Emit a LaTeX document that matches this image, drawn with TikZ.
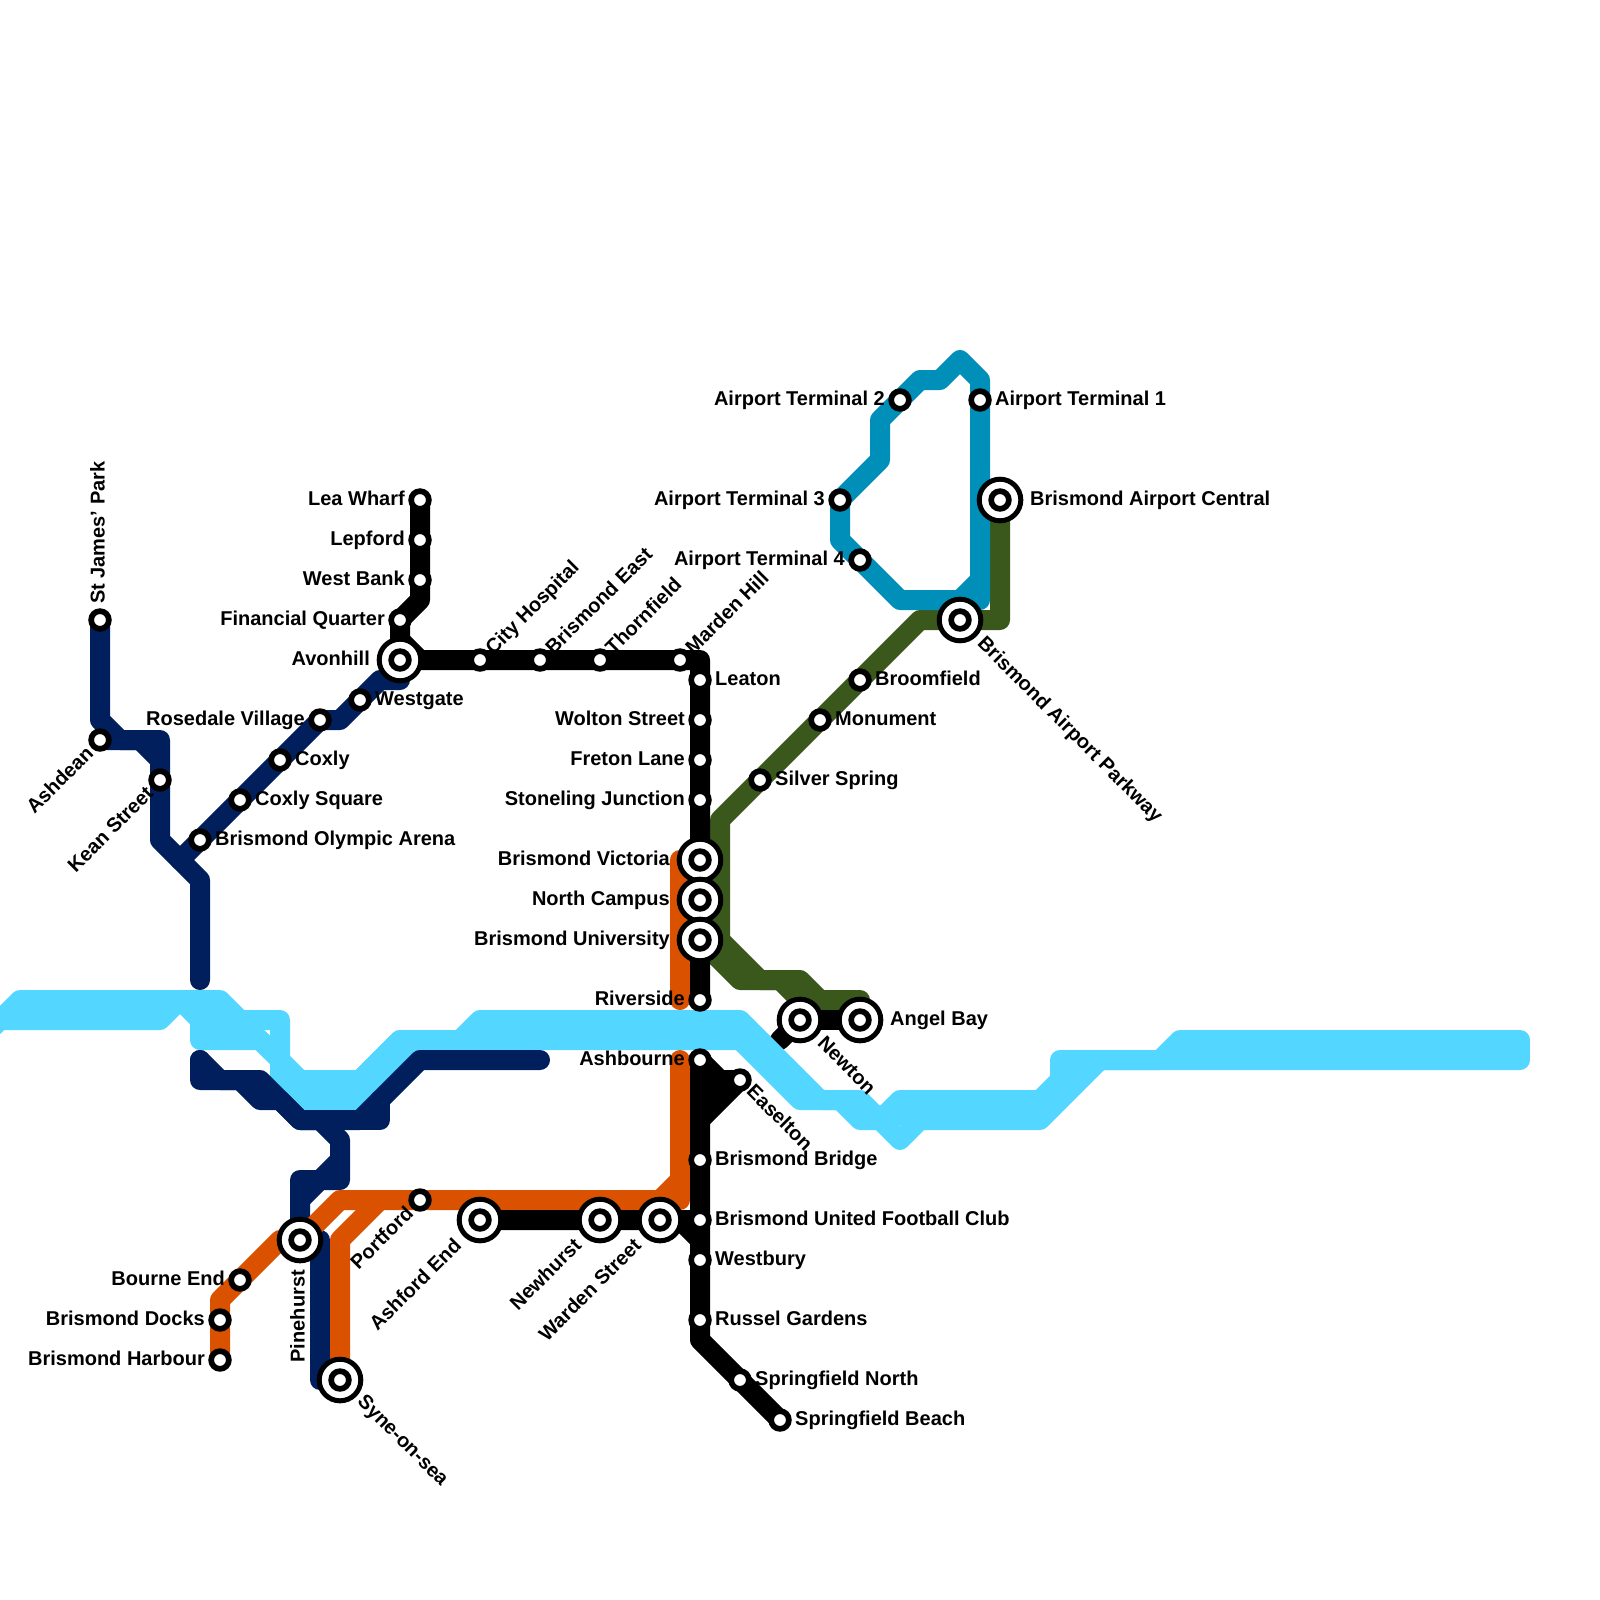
\documentclass[tikz,border=0pt]{standalone}
\usepackage{fontspec}
\setsansfont{Liberation Sans}
\usetikzlibrary{backgrounds}
\definecolor{lineSky}{RGB}{83,214,255}
\definecolor{lineNavy}{RGB}{0,31,92}
\definecolor{lineRust}{RGB}{218,82,0}
\definecolor{lineMoss}{RGB}{58,88,28}
\definecolor{lineTeal}{RGB}{0,143,184}
\tikzset{metro/.style={
  x=1pt, y=-1pt,
  track/.style={line width=20pt, line join=round, line cap=round},
  stop/.style={circle, draw=black, fill=white, line width=5.7pt, minimum size=17.7pt, inner sep=0pt, outer sep=0pt},
  hub/.style={circle, draw=black, fill=white, line width=5pt, minimum size=41.6pt, inner sep=0pt, outer sep=0pt, label={[stop]center:{}}},
  tag/.style={font=\sffamily\bfseries\fontsize{20}{22}\selectfont, inner sep=0pt, text height=14pt, text depth=1pt},
  tagr/.style={tag, anchor=west},
  tagl/.style={tag, anchor=east},
}}
\begin{document}
\begin{tikzpicture}[metro]
\useasboundingbox (0,0) rectangle (1600,1600);
% =====================================================================
%  stations
% =====================================================================
\node[stop] (stjames) at (100,620) {};
\node[stop] (ashdean) at (100,740) {};
\node[stop] (kean) at (160,780) {};
\node[stop] (olympic) at (200,840) {};
\node[stop] (coxlysq) at (240,800) {};
\node[stop] (coxly) at (280,760) {};
\node[stop] (rosedale) at (320,720) {};
\node[stop] (westgate) at (360,700) {};
\node[hub] (avonhill) at (400,660) {};
\node[stop] (financial) at (400,620) {};
\node[stop] (westbank) at (420,580) {};
\node[stop] (lepford) at (420,540) {};
\node[stop] (leawharf) at (420,500) {};
\node[stop] (cityhosp) at (480,660) {};
\node[stop] (briseast) at (540,660) {};
\node[stop] (thornfield) at (600,660) {};
\node[stop] (marden) at (680,660) {};
\node[stop] (leaton) at (700,680) {};
\node[stop] (wolton) at (700,720) {};
\node[stop] (freton) at (700,760) {};
\node[stop] (stoneling) at (700,800) {};
\node[hub] (victoria) at (700,860) {};
\node[hub] (north) at (700,900) {};
\node[hub] (university) at (700,940) {};
\node[stop] (riverside) at (700,1000) {};
\node[stop] (ashbourne) at (700,1060) {};
\node[stop] (easelton) at (740,1080) {};
\node[stop] (bridge) at (700,1160) {};
\node[stop] (united) at (700,1220) {};
\node[stop] (westbury) at (700,1260) {};
\node[stop] (russel) at (700,1320) {};
\node[stop] (springn) at (740,1380) {};
\node[stop] (springb) at (780,1420) {};
\node[hub] (newton) at (800,1020) {};
\node[hub] (angel) at (860,1020) {};
\node[stop] (silver) at (760,780) {};
\node[stop] (monument) at (820,720) {};
\node[stop] (broomfield) at (860,680) {};
\node[hub] (parkway) at (960,620) {};
\node[hub] (central) at (1000,500) {};
\node[stop] (term1) at (980,400) {};
\node[stop] (term2) at (900,400) {};
\node[stop] (term3) at (840,500) {};
\node[stop] (term4) at (860,560) {};
\node[hub] (pinehurst) at (300,1240) {};
\node[hub] (syne) at (340,1380) {};
\node[stop] (bourne) at (240,1280) {};
\node[stop] (docks) at (220,1320) {};
\node[stop] (harbour) at (220,1360) {};
\node[stop] (portford) at (420,1200) {};
\node[hub] (ashford) at (480,1220) {};
\node[hub] (newhurst) at (600,1220) {};
\node[hub] (warden) at (660,1220) {};

% =====================================================================
%  lines
% =====================================================================
\begin{scope}[on background layer]
  \draw[track, black] (newton.center) -- (780,1040);
  % sky line, two tracks and the seam between them
  \draw[track, lineSky] (-20,1040) -- (20,1000) -- (220,1000) -- (240,1020) -- (280,1020) -- (280,1060) -- (300,1080) -- (360,1080) -- (400,1040) -- (460,1040) -- (480,1020) -- (740,1020) -- (820,1100) -- (860,1100) -- (900,1140) -- (920,1120) -- (1040,1120) -- (1100,1060) -- (1520,1060);
  \draw[track, lineSky] (-20,1020) -- (160,1020) -- (180,1000) -- (200,1020) -- (200,1040) -- (260,1040) -- (280,1060) -- (280,1080) -- (300,1100) -- (360,1100) -- (420,1040) -- (740,1040) -- (800,1100) -- (840,1100) -- (860,1120) -- (880,1120) -- (900,1100) -- (1040,1100) -- (1060,1080) -- (1060,1060) -- (1160,1060) -- (1180,1040) -- (1520,1040);
  \draw[track, lineSky] (20,1010) -- (160,1010);
  \draw[track, lineSky] (200,1020) -- (270,1020);
  \draw[track, lineSky] (210,1030) -- (250,1030) -- (270,1050);
  \draw[track, lineSky] (310,1090) -- (350,1090) -- (400,1040);
  \draw[track, lineSky] (480,1030) -- (740,1030) -- (810,1100);
  \draw[track, lineSky] (880,1120) -- (920,1110) -- (1040,1110) -- (1090,1060);
  \draw[track, lineSky, line cap=butt] (1180,1050) -- (1530,1050);
  % navy line
  \draw[track, lineNavy] (stjames.center) -- (100,720) -- (120,740) -- (160,740) -- (160,840) -- (200,880) -- (200,980);
  \draw[track, lineNavy] (ashdean.center) -- (140,740) -- (160,760);
  \draw[track, lineNavy] (180,860) -- (rosedale.center) -- (340,720) -- (380,680) -- (400,680) -- (avonhill.center);
  \draw[track, lineNavy] (200,1060) -- (220,1080) -- (260,1080) -- (300,1120) -- (360,1120) -- (420,1060) -- (540,1060);
  \draw[track, lineNavy] (200,1060) -- (200,1080) -- (240,1080) -- (260,1100) -- (280,1100) -- (300,1120) -- (320,1120) -- (340,1140) -- (340,1180) -- (300,1180) -- (pinehurst.center);
  \draw[track, lineNavy] (340,1160) -- (300,1200);
  \draw[track, lineNavy] (380,1100) -- (380,1120) -- (340,1120);
  \draw[track, lineNavy] (pinehurst.center) -- (320,1240) -- (320,1380) -- (syne.center);
  % rust line
  \draw[track, lineRust] (harbour.center) -- (220,1300) -- (280,1240) -- (pinehurst.center) -- (340,1200) -- (680,1200) -- (680,1060);
  \draw[track, lineRust] (syne.center) -- (340,1240) -- (380,1200);
  \draw[track, lineRust] (660,1200) -- (680,1180);
  \draw[track, lineRust] (680,860) -- (680,1000);
  % moss line
  \draw[track, lineMoss] (central.center) -- (1000,620) -- (920,620) -- (720,820) -- (720,940) -- (760,980) -- (800,980) -- (820,1000) -- (860,1000) -- (angel.center);
  \draw[track, lineMoss] (university.center) -- (740,980) -- (780,980) -- (800,1000) -- (newton.center);
  % teal line
  \draw[track, lineTeal] (term3.center) -- (880,460) -- (880,420) -- (920,380) -- (940,380) -- (960,360) -- (980,380) -- (980,600) -- (900,600) -- (840,540) -- (term3.center);
  \draw[track, lineTeal] (960,600) -- (980,580);
  % black line
  \draw[track, black] (leawharf.center) -- (420,600) -- (financial.center) -- (avonhill.center) -- (700,660) -- (riverside.center);
  \draw[track, black] (400,640) -- (420,660);
  \draw[track, black] (ashbourne.center) -- (700,1340) -- (springb.center);
  \draw[track, black] (ashbourne.center) -- (720,1080) -- (easelton.center) -- (700,1120);
  \draw[track, black] (700,1080) -- (easelton.center);
  \draw[track, black] (700,1095) -- (720,1095);
  \draw[track, black] (ashford.center) -- (680,1220) -- (700,1240);
  \draw[track, black] (680,1220) -- (united.center);
  \draw[track, black] (newton.center) -- (angel.center);
\end{scope}

% =====================================================================
%  station names
% =====================================================================
\node[tag, rotate=90, anchor=west] (stjamesT) at (98,604) {St James' Park};
\node[tag, rotate=45, anchor=east] (ashdeanT) at (90,750) {Ashdean};
\node[tag, rotate=45, anchor=east] (keanT) at (150,790) {Kean Street};
\node[tagr] (olympicT) at (215,839) {Brismond Olympic Arena};
\node[tagr] (coxlysqT) at (255,799) {Coxly Square};
\node[tagr] (coxlyT) at (295,759) {Coxly};
\node[tagl] (rosedaleT) at (305,719) {Rosedale Village};
\node[tagr] (westgateT) at (375,699) {Westgate};
\node[tagl] (avonhillT) at (370,659) {Avonhill};
\node[tagl] (financialT) at (385,619) {Financial Quarter};
\node[tagl] (westbankT) at (405,579) {West Bank};
\node[tagl] (lepfordT) at (405,539) {Lepford};
\node[tagl] (leawharfT) at (405,499) {Lea Wharf};
\node[tag, rotate=45, anchor=west] (cityhospT) at (489,651) {City Hospital};
\node[tag, rotate=45, anchor=west] (briseastT) at (549,651) {Brismond East};
\node[tag, rotate=45, anchor=west] (thornfieldT) at (609,651) {Thornfield};
\node[tag, rotate=45, anchor=west] (mardenT) at (689,651) {Marden Hill};
\node[tagr] (leatonT) at (715,679) {Leaton};
\node[tagl] (woltonT) at (685,719) {Wolton Street};
\node[tagl] (fretonT) at (685,759) {Freton Lane};
\node[tagl] (stonelingT) at (685,799) {Stoneling Junction};
\node[tagl] (victoriaT) at (670,859) {Brismond Victoria};
\node[tagl] (northT) at (670,899) {North Campus};
\node[tagl] (universityT) at (670,939) {Brismond University};
\node[tagl] (riversideT) at (685,999) {Riverside};
\node[tagl] (ashbourneT) at (685,1059) {Ashbourne};
\node[tag, rotate=-45, anchor=west] (easeltonT) at (750,1088) {Easelton};
\node[tagr] (bridgeT) at (715,1159) {Brismond Bridge};
\node[tagr] (unitedT) at (715,1219) {Brismond United Football Club};
\node[tagr] (westburyT) at (715,1259) {Westbury};
\node[tagr] (russelT) at (715,1319) {Russel Gardens};
\node[tagr] (springnT) at (755,1379) {Springfield North};
\node[tagr] (springbT) at (795,1419) {Springfield Beach};
\node[tag, rotate=-45, anchor=west] (newtonT) at (821,1040) {Newton};
\node[tagr] (angelT) at (890,1019) {Angel Bay};
\node[tagr] (silverT) at (775,779) {Silver Spring};
\node[tagr] (monumentT) at (835,719) {Monument};
\node[tagr] (broomfieldT) at (875,679) {Broomfield};
\node[tag, rotate=-45, anchor=west] (parkwayT) at (981,640) {Brismond Airport Parkway};
\node[tagr] (centralT) at (1030,499) {Brismond Airport Central};
\node[tagr] (term1T) at (995,399) {Airport Terminal 1};
\node[tagl] (term2T) at (885,399) {Airport Terminal 2};
\node[tagl] (term3T) at (825,499) {Airport Terminal 3};
\node[tagl] (term4T) at (845,559) {Airport Terminal 4};
\node[tag, rotate=90, anchor=east] (pinehurstT) at (298,1270) {Pinehurst};
\node[tag, rotate=-45, anchor=west] (syneT) at (361,1398) {Syne-on-sea};
\node[tagl] (bourneT) at (225,1279) {Bourne End};
\node[tagl] (docksT) at (205,1319) {Brismond Docks};
\node[tagl] (harbourT) at (205,1359) {Brismond Harbour};
\node[tag, rotate=45, anchor=east] (portfordT) at (410,1210) {Portford};
\node[tag, rotate=45, anchor=east] (ashfordT) at (458,1242) {Ashford End};
\node[tag, rotate=45, anchor=east] (newhurstT) at (578,1242) {Newhurst};
\node[tag, rotate=45, anchor=east] (wardenT) at (638,1242) {Warden Street};
\end{tikzpicture}
\end{document}
